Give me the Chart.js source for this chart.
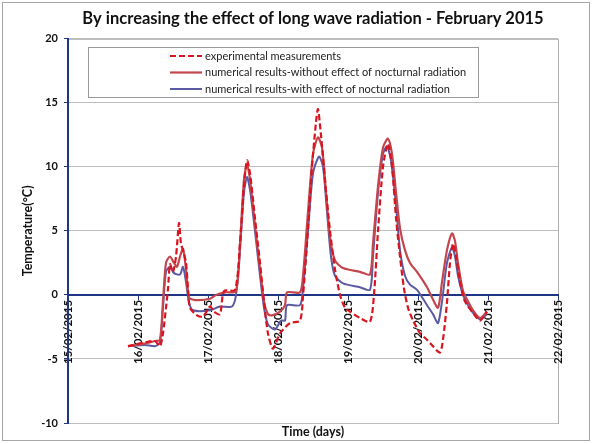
<!DOCTYPE html>
<html>
<head>
<meta charset="utf-8">
<script src="https://cdn.jsdelivr.net/npm/chart.js@4.4.1/dist/chart.umd.min.js"></script>
<style>
  html, body { margin: 0; padding: 0; background: #fff; }
  #wrap { width: 592px; height: 444px; }
</style>
</head>
<body>
<div id="wrap"><canvas id="chart" width="592" height="444"></canvas></div>
<script>
// Days since 15/02/2015 00:00, temperatures in °C
const tickLabels = ['15/02/2015', '16/02/2015', '17/02/2015', '18/02/2015',
  '19/02/2015', '20/02/2015', '21/02/2015', '22/02/2015'];

const expDays = [0.857, 1.100, 1.243, 1.314, 1.357, 1.400, 1.429, 1.457, 1.500, 1.543, 1.586, 1.614, 1.643,
  1.686, 1.714, 1.743, 1.843, 1.929, 2.029, 2.086, 2.171, 2.229, 2.386, 2.457, 2.514, 2.557, 2.600, 2.671,
  2.743, 2.800, 2.857, 2.929, 3.029, 3.171, 3.314, 3.357, 3.414, 3.486, 3.543, 3.571, 3.614, 3.671, 3.743,
  3.814, 3.886, 3.957, 4.029, 4.171, 4.314, 4.371, 4.429, 4.500, 4.571, 4.629, 4.686, 4.743, 4.800, 4.857,
  4.929, 5.029, 5.129, 5.214, 5.314, 5.357, 5.414, 5.457, 5.500, 5.543, 5.600, 5.671, 5.786, 5.886, 5.986];
const expTemp = [-4.0, -3.7, -3.6, -4.0, -3.0, -1.0, 0.5, 2.4, 1.8, 3.0, 5.6, 4.0, 3.5,
  2.5, 0.5, -1.0, -1.6, -1.7, -0.9, -1.3, -1.5, 0.3, 0.4, 4.0, 8.5, 10.5, 9.5, 6.0,
  2.5, -0.5, -3.0, -4.2, -3.0, -2.2, -2.0, -0.1, 4.0, 10.0, 13.5, 14.5, 12.5, 9.0, 5.0,
  2.0, 0.0, -1.0, -1.3, -1.8, -2.1, 0.0, 5.0, 10.0, 11.8, 10.0, 6.0, 3.0, 0.5, -1.0,
  -2.0, -3.0, -3.5, -4.0, -4.5, -3.5, -0.6, 2.5, 4.0, 3.0, 1.0, -0.5, -1.4, -2.0, -1.3];

const noRadDays = [0.857, 1.100, 1.243, 1.314, 1.357, 1.400, 1.457, 1.514, 1.557, 1.600, 1.643, 1.686, 1.729,
  1.814, 2.029, 2.114, 2.243, 2.400, 2.457, 2.514, 2.557, 2.600, 2.671, 2.743, 2.800, 2.857, 2.914, 3.029,
  3.100, 3.129, 3.314, 3.357, 3.429, 3.500, 3.571, 3.629, 3.686, 3.743, 3.814, 3.929, 4.171, 4.314, 4.357,
  4.429, 4.500, 4.571, 4.629, 4.686, 4.743, 4.814, 4.886, 4.986, 5.129, 5.200, 5.286, 5.343, 5.414, 5.486,
  5.529, 5.571, 5.643, 5.714, 5.786, 5.886, 5.986];
const noRadTemp = [-4.0, -3.8, -3.6, -3.5, -0.5, 2.5, 3.0, 2.5, 2.2, 3.0, 3.6, 2.0, -0.2,
  -0.4, -0.3, 0.0, 0.2, 0.3, 4.0, 9.0, 10.2, 9.0, 5.5, 2.0, -0.5, -1.5, -1.6, -1.3,
  -0.8, 0.2, 0.2, 1.5, 6.5, 11.0, 12.3, 11.5, 8.0, 4.5, 2.7, 2.1, 1.8, 1.6, 4.0,
  8.5, 11.5, 12.2, 11.0, 8.0, 5.2, 3.5, 2.5, 1.8, 0.6, -0.2, -1.0, 1.0, 3.5, 4.8,
  4.2, 2.5, 0.3, -0.5, -1.2, -1.8, -1.3];

const radDays = [0.857, 1.100, 1.243, 1.314, 1.357, 1.400, 1.457, 1.514, 1.600, 1.643, 1.686, 1.729, 1.786,
  2.029, 2.171, 2.343, 2.400, 2.457, 2.514, 2.557, 2.600, 2.671, 2.743, 2.800, 2.857, 2.957, 3.043, 3.100,
  3.129, 3.314, 3.357, 3.429, 3.500, 3.586, 3.643, 3.700, 3.757, 3.814, 3.929, 4.171, 4.314, 4.357, 4.429,
  4.500, 4.557, 4.614, 4.686, 4.743, 4.814, 4.886, 4.986, 5.129, 5.214, 5.286, 5.343, 5.414, 5.486, 5.529,
  5.571, 5.643, 5.714, 5.786, 5.886, 5.986];
const radTemp = [-4.0, -3.9, -4.0, -3.7, -1.0, 1.8, 2.2, 1.7, 1.6, 2.2, 1.0, -0.6, -1.2,
  -1.2, -0.9, -0.9, 0.0, 3.5, 8.0, 9.2, 8.2, 5.0, 1.5, -1.0, -2.3, -2.7, -2.0, -2.0,
  -0.8, -0.8, 0.5, 5.0, 9.5, 10.8, 10.0, 6.5, 3.0, 1.5, 0.9, 0.6, 0.4, 3.0, 8.0,
  11.0, 11.6, 10.5, 7.0, 3.5, 1.5, 0.8, 0.4, -0.8, -1.5, -2.2, -0.5, 2.5, 3.7, 3.0,
  1.5, 0.0, -0.8, -1.4, -1.9, -1.5];

const NAVY = '#1f3585';
const FONT = 'Lato, "Open Sans", sans-serif';

const pts = (xs, ys) => xs.map((x, i) => ({ x, y: ys[i] }));

// gray outer frame + plot area box (drawn under the axes)
const frame = {
  id: 'frame',
  beforeDraw(chart) {
    const { ctx, chartArea: a } = chart;
    ctx.save();
    ctx.strokeStyle = '#a6a6a6';
    ctx.lineWidth = 1;
    ctx.strokeRect(2.5, 2.5, 587, 438);
    ctx.strokeStyle = '#b0b0b0';
    ctx.strokeRect(a.left + 0.5, a.top + 0.5, a.right - a.left, a.bottom - a.top);
    ctx.restore();
  },
};

// boxed legend inside the plot area
const legendBox = {
  id: 'legendBox',
  afterDraw(chart) {
    const ctx = chart.ctx;
    ctx.save();
    ctx.fillStyle = '#fff';
    ctx.fillRect(88, 47, 390, 50);
    ctx.strokeStyle = '#9a9a9a';
    ctx.lineWidth = 1;
    ctx.strokeRect(88.5, 47.5, 390, 50);
    ctx.font = '11px ' + FONT;
    ctx.textBaseline = 'middle';
    chart.data.datasets.forEach((ds, i) => {
      const y = 56 + i * 16.5;
      ctx.strokeStyle = ds.borderColor;
      ctx.lineWidth = ds.borderWidth;
      ctx.setLineDash(ds.borderDash || []);
      ctx.beginPath();
      ctx.moveTo(170, y);
      ctx.lineTo(202, y);
      ctx.stroke();
      ctx.setLineDash([]);
      ctx.fillStyle = '#222';
      ctx.fillText(ds.label, 205, y);
    });
    ctx.restore();
  },
};

new Chart(document.getElementById('chart'), {
  type: 'line',
  data: {
    datasets: [
      {
        label: 'experimental measurements',
        data: pts(expDays, expTemp),
        borderColor: '#d9141e',
        borderWidth: 2.2,
        borderDash: [6, 3],
      },
      {
        label: 'numerical results-without effect of nocturnal radiation',
        data: pts(noRadDays, noRadTemp),
        borderColor: '#c4464d',
        borderWidth: 2.2,
      },
      {
        label: 'numerical results-with effect of nocturnal radiation',
        data: pts(radDays, radTemp),
        borderColor: '#5c5aa2',
        borderWidth: 2,
      },
    ],
  },
  options: {
    responsive: false,
    animation: false,
    layout: { padding: { left: 4, right: 34, top: 0, bottom: 0 } },
    elements: { point: { radius: 0 }, line: { tension: 0.25, fill: false } },
    plugins: {
      legend: { display: false },
      tooltip: { enabled: false },
      title: {
        display: true,
        fullSize: false,
        text: 'By increasing the effect of long wave radiation - February 2015',
        color: '#111',
        font: { family: FONT, size: 16.5, weight: 'bold' },
        padding: { top: 9, bottom: 10 },
      },
      subtitle: {
        display: true,
        fullSize: false,
        position: 'bottom',
        text: 'Time (days)',
        color: '#111',
        font: { family: FONT, size: 12.5, weight: 'bold' },
        padding: { top: 1, bottom: 5 },
      },
    },
    scales: {
      x: {
        type: 'linear',
        position: { y: 0 },
        min: 0, max: 7,
        ticks: {
          stepSize: 1,
          minRotation: 90, maxRotation: 90,
          padding: 1,
          color: '#111',
          font: { family: FONT, size: 11.5, weight: 'bold' },
          callback: v => tickLabels[v],
        },
        grid: { drawOnChartArea: false, color: NAVY, tickLength: 4 },
        border: { color: NAVY, width: 2 },
      },
      y: {
        min: -10, max: 20,
        afterFit(scale) { scale.width = 64; },
        ticks: {
          stepSize: 5,
          padding: 6,
          color: '#111',
          font: { family: FONT, size: 11, weight: 'bold' },
        },
        grid: { color: '#bdbdbd', tickColor: NAVY, tickLength: 4 },
        border: { color: NAVY, width: 2 },
        title: {
          display: true,
          text: 'Temperature(°C)',
          color: '#111',
          font: { family: FONT, size: 12.5, weight: 'bold' },
          padding: { top: 16, bottom: 0 },
        },
      },
    },
  },
  plugins: [frame, legendBox],
});
</script>
</body>
</html>
